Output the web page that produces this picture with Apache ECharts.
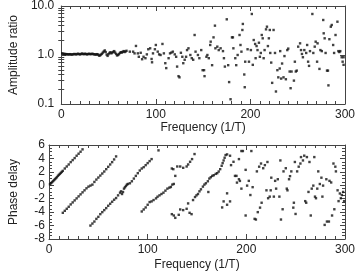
<!DOCTYPE html>
<html>
<head>
<meta charset="utf-8">
<script src="https://cdn.jsdelivr.net/npm/echarts@6/dist/echarts.min.js"></script>
<style>
  html, body { margin: 0; padding: 0; background: #fff; }
  #main { width: 358px; height: 272px; }
</style>
</head>
<body>
<div id="main"></div>
<script>
// 频率轴刻度
var freqTicks = [0, 100, 200, 300];
var ampTicks = [0.1, 1.0, 10.0];
var ampMinor = [0.2, 0.3, 0.4, 0.5, 0.6, 0.7, 0.8, 0.9, 2, 3, 4, 5, 6, 7, 8, 9];
var phaseTicks = [-8, -6, -4, -2, 0, 2, 4, 6];

// amplitude ratio, low frequency (dense part)
var ampLow = [
  [1,1.08],[2,1.06],[3,1.05],[4,1.05],[5,1.04],[6,1.04],[7,1.03],[8,1.03],[9,1.04],[10,1.03],
  [11,1.02],[12,1.03],[13,1.04],[14,1.05],[15,1.04],[16,1.03],[17,1.05],[18,1.06],[19,1.04],[20,1.03],
  [21,1.05],[22,1.07],[23,1.05],[24,1.04],[25,1.06],[26,1.05],[27,1.03],[28,1.04],[29,1.06],[30,1.05],
  [31,1.04],[32,1.05],[33,1.06],[34,1.04],[35,1.03],[36,1.03],[37,1.02],[38,1.04],[39,1.02],[40,0.97],
  [41,0.98],[42,1.02],[43,1.06],[44,1.12],[45,1.18],[46,1.24],[47,1.15],[48,1.02],[49,0.96],[50,1.04],
  [51,1.10],[52,1.14],[53,1.08],[54,1.12],[55,1.16],[56,1.20],[57,1.12],[58,1.05],[59,0.98],[60,1.0],
  [61,1.04],[62,1.10],[63,1.14],[64,1.12],[65,1.16],[66,1.20],[67,1.15],[68,1.18]
];

// amplitude ratio, scattered part
var ampHigh = [
  [69,1.22],[72.5,1.17],[76,1.17],[77.5,1.08],[79,1.53],[81,1.08],[82,0.92],[84,1.11],[85.5,0.82],[87,0.92],
  [89,0.86],[90.5,1.03],[92,1.31],[94,1.37],[95.5,0.83],[96,0.71],[97,1.08],[99,1.31],[100,1.6],[102,1.17],
  [103.5,1.03],[105,1.0],[107,1.68],[108.5,1.08],[110,0.68],[111,0.54],[113.5,0.86],[115,1.08],[116.5,1.12],[118,1.17],
  [120,1.03],[121.5,0.92],[122.5,0.58],[124,0.37],[125,0.35],[126.5,1.11],[128,0.92],[129,0.68],[130.5,0.8],[132,0.92],
  [133,1.26],[134.5,1.37],[136.5,1.0],[138,0.86],[139.5,0.8],[141,2.56],[142,1.17],[144.5,1.0],[146,0.86],[148,1.26],
  [149.5,0.49],[151,0.49],[151.5,0.37],[153.5,0.92],[154.5,1.0],[156,0.86],[157.5,1.6],[158,1.87],[159.5,0.62],[161,2.29],
  [162.5,3.97],[163,1.37],[165,1.48],[166.5,1.26],[168.5,1.37],[171,1.2],[172,0.86],[173,0.58],[175,5.35],[176.5,0.62],
  [177.5,0.28],[179,0.125],[180.5,2.29],[181.5,2.29],[182,1.37],[184,0.86],[185,0.62],[186.5,1.0],[188.5,2.56],[189.5,1.6],
  [190.5,1.17],[191.5,3.24],[192,4.3],[193.5,0.4],[194,0.22],[194.5,0.73],
  [197,1.31],[198.5,0.73],[200.5,1.26],[201.5,6.87],[202.5,0.63],[203.5,2.02],[205,1.68],[205.5,0.86],[206.5,1.52],[207.5,1.26],
  [209,1.78],[210,0.92],[211,1.1],[212,2.56],[213,2.19],[214,0.86],[215,1.26],[216.5,3.34],[217.5,3.78],[218.5,1.52],
  [219.5,2.19],[220.5,3.24],[221,1.1],[222,0.7],[223,0.27],[224.5,3.24],[226,1.1],[227,0.18],[228.5,0.49],[229.5,0.35],
  [231,0.53],[231.5,1.2],[232.5,0.33],[233.5,0.67],[235,0.35],[236,0.95],[237.5,0.32],[239,1.26],[240,1.35],[241.5,0.46],
  [242.5,0.21],[243.5,0.46],[246,0.3],[247,0.73],[248,0.46],[249,0.48],[250.5,1.48],[252.5,1.73],[253.5,1.26],[254.5,1.05],
  [255.5,0.9],[257,1.26],[259,1.1],[260,1.6],[261,0.73],[262,0.6],[263,1.2],[265.5,6.87],[266.5,1.1],[268,1.48],
  [269,1.87],[270.5,0.73],[271,1.73],[273,0.52],[274,1.26],[275.5,1.2],[277,5.18],[277.5,2.77],[278.5,2.19],[279.5,1.1],
  [281,0.48],[282,0.48],[282.5,0.24],[283.5,2.1],[285,3.78],[286,4.1],[287.5,1.6],[288.5,1.1],[290,2.56],[292,4.78],
  [293,1.2],[294,1.15],[295,1.2],[296.5,0.9],[297.5,0.73],[298.5,0.63],[298.5,0.9]
];

// phase delay
var phase = [
  // 第一段
  [1,0.15],[2,0.3],[3,0.45],[4,0.6],[5,0.75],[6,0.9],[7,1.05],[8,1.2],[9,1.4],[10,1.55],
  [11,1.7],[12,1.85],[13,2.0],[14,2.15],[16,2.5],[18,2.8],[20,3.1],[22,3.45],[24,3.75],[26,4.05],
  [28,4.4],[30,4.7],[32,5.0],[34,5.35],
  // 第二段
  [14,-4.1],[16,-3.8],[18,-3.5],[20,-3.2],[22,-2.85],[24,-2.55],[26,-2.25],[28,-1.95],[30,-1.65],[32,-1.35],
  [34,-1.05],[36,-0.75],[38,-0.45],[40,-0.2],[42,-0.05],[44,0.1],[46,0.5],[48,0.85],[50,1.15],[52,1.45],
  [54,1.75],[56,2.05],[58,2.4],[60,2.75],[62,3.1],[64,3.45],[66,3.85],[68,4.3],
  // 第三段
  [42,-6.0],[44,-5.7],[46,-5.4],[48,-5.0],[50,-4.7],[52,-4.3],[54,-4.0],[56,-3.7],[58,-3.4],[60,-3.05],
  [62,-2.75],[64,-2.45],[66,-2.15],[68,-1.9],[70,-1.5],[72,-1.1],[73,-0.9],[74,-1.3],[75,-1.0],[76,-0.5],
  [77,-0.3],[78,-0.1],[79,0.1],[80,0.2],[82,0.3],[84,0.6],[86,1.0],[88,1.4],[90,1.8],[92,2.2],
  [94,2.5],[96,2.7],[98,3.0],[100,3.3],[102,3.6],[104,3.9],[111,5.2],
  // 第四段
  [94,-3.9],[96,-3.6],[98,-3.3],[100,-2.9],[102,-2.5],[104,-2.4],[106,-2.2],[108.5,-1.95],[110,-1.7],[112,-1.5],
  [114,-1.3],[116,-1.1],[118,-0.8],[120,-0.5],[122,-0.35],[123.5,-0.25],[125,0.1],[126.5,0.2],
  [124.5,2.5],[126,2.4],[128,1.4],[130,2.8],[133,2.8],[136,2.6],[139.5,2.8],[141,3.1],[143,3.5],[145,3.9],[147.5,4.65],
  [124.5,-4.3],[126.5,-4.5],[128,-4.85],[131.5,-4.4],[133,-3.6],[136,-3.7],[139.5,-3.5],[141,-2.7],[142.5,-4.1],[144.5,-4.3],
  // 第五段
  [146,-2.2],[148,-1.75],[149.5,-1.5],[151,-1.3],[152.5,-0.9],[154,-0.6],[156,-0.2],[157.5,0.1],[159,0.3],[161,0.6],
  [162.5,1.0],[164,1.2],[165.5,1.4],[167,1.5],[169,1.7],[170.5,1.8],[172,2.05],[173.5,2.4],[175,2.9],[176,3.3],
  [177,3.7],[178,4.1],[179,4.5],[180.5,4.6],
  [161.5,-1.0],[177,-2.4],[175.5,-3.3],[180.5,-2.9],[183.5,-2.4],[180.5,-1.2],[183.5,4.4],[184.5,3.0],[187,3.5],[188.5,1.4],
  [190,1.4],[190.5,0.4],[192.5,0.9],[192.5,3.9],[193.5,0.65],[195,5.1],[196.5,5.1],[195,-0.5],
  // 高频散点
  [199.3,2.3],[199.3,-4.5],[200.8,-0.05],[202.5,0.66],[204.1,-1.45],[205.1,5.1],[206.4,-0.28],[208.4,-5.0],[209.7,-5.1],[210.7,2.07],
  [211.6,-4.0],[213,2.77],[213.9,-3.33],[214.9,3.24],[215.5,-2.6],[217.1,2.54],[218.8,3.0],[220.4,-0.75],[221.4,3.47],[222.1,-1.93],
  [223.7,-1.69],[224.7,-0.75],[225.3,1.13],[227.9,-1.69],[229.2,0.66],[230.2,-0.5],[231.9,0.9],[233.5,-1.69],[234.5,3.7],[235.1,-5.1],
  [236.8,-3.57],[237.7,2.07],[240,2.54],[241,-0.5],[241.7,-0.75],[243.3,0.9],[244.3,1.36],[245.6,2.07],[247.6,-3.33],[248.2,-2.6],
  [249.2,3.47],[249.9,-4.27],[251.5,2.07],[253.1,2.77],[254.8,3.24],[255.4,4.2],[257.4,3.7],[258.7,4.41],[259.7,-2.36],[260.7,-2.6],
  [261.4,4.2],[263,-0.99],[264,3.47],[265.3,-4.5],[266.3,-0.5],[267.9,-0.05],[268.9,4.2],[269.6,-1.69],[270.6,-1.93],[271.9,-0.5],
  [272.9,2.07],[274.5,0.19],[276.1,1.13],[277.1,-1.69],[277.8,-0.05],[279.4,-5.9],[281.1,0.9],[281.7,-5.4],[283.7,-5.4],[284.3,0.66],
  [286,0.42],[286.9,-4.5],[288.3,3.24],[289.2,-3.57],[290.2,2.77],[290.8,2.07],[292.5,-0.75],[293.5,-2.36],[294.8,-1.22],[295.8,-1.93],
  [296.8,-1.45],[298.1,-0.99],[299.1,-2.36]
];

var chart = echarts.init(document.getElementById('main'), null, { renderer: 'canvas' });

var lineColor = '#444';
var textColor = '#222';
var fontFamily = 'Liberation Sans, Arial, sans-serif';

function freqAxis(grid, pos, withLabel, gap) {
  return {
    type: 'value', gridIndex: grid, position: pos,
    min: 0, max: 300, interval: 100,
    name: withLabel ? 'Frequency (1/T)' : '',
    nameLocation: 'middle', nameGap: gap || 18,
    nameTextStyle: { color: textColor, fontSize: 12, fontFamily: fontFamily },
    axisLine: { show: true, onZero: false, lineStyle: { color: lineColor, width: 1 } },
    axisTick: { show: true, inside: true, length: 5, lineStyle: { color: lineColor } },
    minorTick: { show: true, splitNumber: 10, length: 3, lineStyle: { color: lineColor } },
    axisLabel: { show: withLabel, color: textColor, fontSize: 12, fontFamily: fontFamily, margin: 5,
      customValues: freqTicks },
    splitLine: { show: false }, minorSplitLine: { show: false }
  };
}

function ampAxis(pos, withLabel) {
  return {
    type: 'log', logBase: 10, gridIndex: 0, position: pos,
    min: 0.1, max: 10,
    name: withLabel ? 'Amplitude ratio' : '',
    nameLocation: 'middle', nameGap: 29,
    nameTextStyle: { color: textColor, fontSize: 12, fontFamily: fontFamily },
    axisLine: { show: true, onZero: false, lineStyle: { color: lineColor, width: 1 } },
    axisTick: { show: true, inside: true, length: 5, lineStyle: { color: lineColor } },
    axisLabel: { show: withLabel, color: textColor, fontSize: 12, fontFamily: fontFamily, margin: 7,
      customValues: ampTicks,
      formatter: function (v) { return Number(v).toFixed(1); } },
    splitLine: { show: false }
  };
}

function ampMinorAxis(pos) {
  return {
    type: 'log', logBase: 10, gridIndex: 0, position: pos,
    min: 0.1, max: 10,
    axisLine: { show: false },
    axisTick: { show: true, inside: true, length: 3, customValues: ampMinor, lineStyle: { color: lineColor } },
    axisLabel: { show: false },
    splitLine: { show: false }
  };
}

function phaseAxis(pos, withLabel) {
  return {
    type: 'value', gridIndex: 1, position: pos,
    min: -8, max: 6, interval: 2,
    name: withLabel ? 'Phase delay' : '',
    nameLocation: 'middle', nameGap: 29,
    nameTextStyle: { color: textColor, fontSize: 12, fontFamily: fontFamily },
    axisLine: { show: true, onZero: false, lineStyle: { color: lineColor, width: 1 } },
    axisTick: { show: true, inside: true, length: 5, lineStyle: { color: lineColor } },
    minorTick: { show: true, splitNumber: 4, length: 3, lineStyle: { color: lineColor } },
    axisLabel: { show: withLabel, color: textColor, fontSize: 12, fontFamily: fontFamily, margin: 4,
      customValues: phaseTicks },
    splitLine: { show: false }, minorSplitLine: { show: false }
  };
}

var dot = { symbol: 'rect', symbolSize: 2.4, itemStyle: { color: '#111' }, silent: true, animation: false };

var option = {
  backgroundColor: '#fff',
  animation: false,
  grid: [
    { left: 41, right: 11, top: 6, height: 98 },
    { left: 41, right: 11, top: 145, height: 100 }
  ],
  xAxis: [
    freqAxis(0, 'bottom', true, 18),
    freqAxis(0, 'top', false),
    freqAxis(1, 'bottom', true, 20),
    freqAxis(1, 'top', false)
  ],
  yAxis: [
    ampAxis('left', true),
    ampAxis('right', false),
    ampMinorAxis('left'),
    ampMinorAxis('right'),
    phaseAxis('left', true),
    phaseAxis('right', false)
  ],
  series: [
    Object.assign({ type: 'scatter', xAxisIndex: 0, yAxisIndex: 0, data: ampLow }, dot),
    Object.assign({ type: 'scatter', xAxisIndex: 0, yAxisIndex: 0, data: ampHigh }, dot),
    Object.assign({ type: 'scatter', xAxisIndex: 2, yAxisIndex: 4, data: phase }, dot)
  ]
};

chart.setOption(option);
</script>
</body>
</html>
